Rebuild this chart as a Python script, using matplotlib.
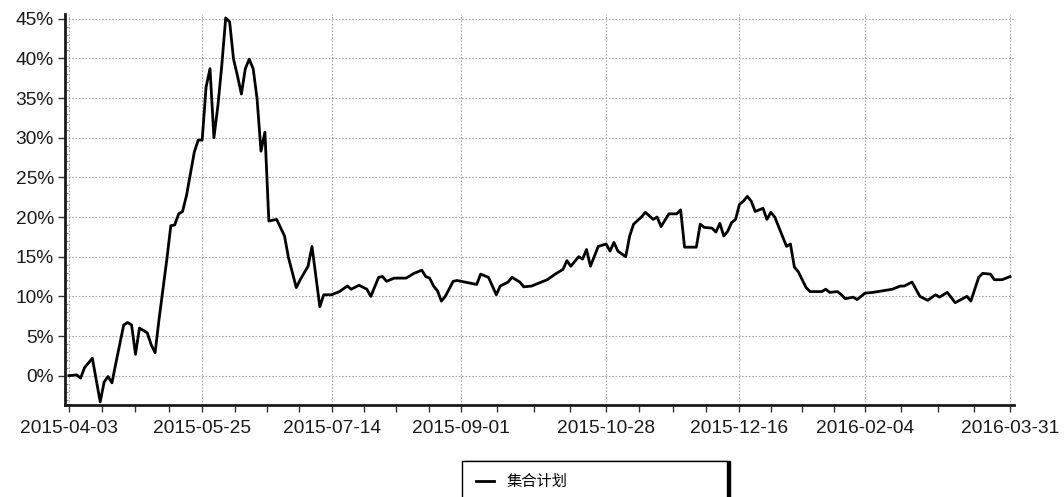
import numpy as np
import matplotlib
matplotlib.use("Agg")
import matplotlib.pyplot as plt
from matplotlib.ticker import FixedLocator, MultipleLocator, FuncFormatter

plt.rcParams['font.family'] = ['Liberation Sans', 'Noto Sans CJK SC', 'DejaVu Sans']

# trading-day index and cumulative return (%)
day = [0, 2, 3, 4, 6, 8, 9, 10, 11, 12, 14, 15, 16, 17, 18, 20, 21, 22, 23, 25,
       26, 27, 28, 29, 30, 32, 33, 34, 35, 36, 37, 38, 39, 40, 41, 42, 43, 44, 45, 46,
       47, 48, 49, 50, 51, 53, 55, 56, 58, 59, 61, 62, 63, 64, 65, 67, 69, 71, 72, 74,
       76, 77, 79, 80, 81, 83, 86, 88, 90, 91, 92, 93, 94, 95, 96, 98, 99, 101, 104, 105,
       107, 109, 110, 112, 113, 115, 116, 118, 122, 124, 126, 127, 128, 130, 131, 132, 133, 135, 137, 138,
       139, 140, 142, 143, 144, 146, 147, 149, 150, 151, 153, 155, 156, 157, 160, 161, 162, 164, 165, 166,
       167, 168, 169, 170, 171, 172, 173, 174, 175, 177, 178, 179, 180, 183, 184, 185, 186, 188, 189, 192,
       193, 194, 196, 197, 198, 200, 201, 203, 205, 210, 212, 213, 215, 217, 219, 221, 222, 224, 226, 229,
       230, 232, 233, 235, 236, 238, 240]
ret = [0.0, 0.1, -0.3, 1.0, 2.2, -3.3, -0.8, -0.1, -0.9, 1.6, 6.4, 6.7, 6.4, 2.7, 6.0, 5.4, 3.9, 2.9, 7.1, 14.7,
       18.9, 19.0, 20.4, 20.7, 22.7, 28.2, 29.7, 29.7, 36.4, 38.7, 30.0, 34.0, 39.1, 45.1, 44.6, 39.9, 37.8, 35.5, 38.7, 39.9,
       38.7, 34.9, 28.3, 30.7, 19.5, 19.7, 17.6, 14.9, 11.1, 12.1, 13.8, 16.3, 12.5, 8.7, 10.2, 10.2, 10.6, 11.3, 10.9, 11.4,
       10.9, 10.0, 12.4, 12.5, 11.9, 12.3, 12.3, 12.9, 13.3, 12.5, 12.3, 11.3, 10.7, 9.4, 10.0, 11.9, 12.0, 11.8, 11.5, 12.8,
       12.4, 10.2, 11.3, 11.8, 12.4, 11.8, 11.2, 11.3, 12.1, 12.8, 13.4, 14.5, 13.8, 15.0, 14.7, 15.9, 13.8, 16.3, 16.6, 15.7,
       16.8, 15.7, 15.0, 17.6, 19.1, 20.0, 20.6, 19.7, 20.0, 18.8, 20.4, 20.4, 20.9, 16.2, 16.2, 19.1, 18.7, 18.6, 18.1, 19.2,
       17.6, 18.2, 19.3, 19.7, 21.6, 22.0, 22.6, 22.0, 20.7, 21.1, 19.7, 20.6, 20.0, 16.3, 16.6, 13.7, 13.1, 11.1, 10.6, 10.6,
       10.9, 10.5, 10.6, 10.2, 9.7, 9.9, 9.6, 10.4, 10.5, 10.9, 11.3, 11.3, 11.8, 10.0, 9.5, 10.2, 9.9, 10.5, 9.2, 10.0,
       9.4, 12.4, 12.9, 12.8, 12.1, 12.1, 12.5]

tick_days = [0, 34, 67, 100, 137, 171, 203, 240]
tick_labels = ['2015-04-03', '2015-05-25', '2015-07-14', '2015-09-01',
               '2015-10-28', '2015-12-16', '2016-02-04', '2016-03-31']
series_name = '集合计划'

fig = plt.figure(figsize=(10.64, 4.97), dpi=100)
ax = fig.add_axes([0.061, 0.185, 0.892, 0.787])

ax.plot(day, ret, color='black', lw=2.0, label=series_name)

ax.set_xlim(-1, 241)
ax.set_ylim(-3.7, 45.6)

# x ticks: labelled dates, four minor steps in between
minor = []
for a, b in zip(tick_days[:-1], tick_days[1:]):
    minor += [a + (b - a) * k / 4 for k in (1, 2, 3)]
ax.xaxis.set_major_locator(FixedLocator(tick_days))
ax.xaxis.set_minor_locator(FixedLocator(minor))
ax.set_xticklabels(tick_labels)

ax.yaxis.set_major_locator(MultipleLocator(5))
ax.yaxis.set_minor_locator(MultipleLocator(1))
ax.yaxis.set_major_formatter(FuncFormatter(lambda v, p: f'{v:.0f}%'))

ax.tick_params(axis='both', which='major', labelsize=13.8, length=5, width=1,
               color='#333333', labelcolor='#1a1a1a')
ax.tick_params(axis='x', which='minor', length=5, width=1, color='#333333')
ax.tick_params(axis='y', which='minor', direction='in', length=2.5, width=0.8, color='#888888')
ax.tick_params(axis='x', pad=6)
ax.tick_params(axis='y', pad=3)

ax.grid(True, which='major', color='#a8a8a8', ls=(0, (1.5, 1.5)), lw=0.8)

for s in ('top', 'right'):
    ax.spines[s].set_visible(False)
for s in ('left', 'bottom'):
    ax.spines[s].set_linewidth(2)
    ax.spines[s].set_color('#1a1a1a')

leg = ax.legend(loc='upper left', bbox_to_anchor=(462 / 1064, 0.0, 265 / 1064, 1 - 461 / 497),
                bbox_transform=fig.transFigure, mode='expand', fancybox=False,
                shadow={'color': 'black', 'alpha': 1, 'ox': 2.5, 'oy': 0},
                fontsize=11, handlelength=1.2, borderpad=0.9, borderaxespad=0,
                framealpha=1, edgecolor='black')
leg.get_frame().set_linewidth(1)

fig.savefig('out.png', dpi=100)
